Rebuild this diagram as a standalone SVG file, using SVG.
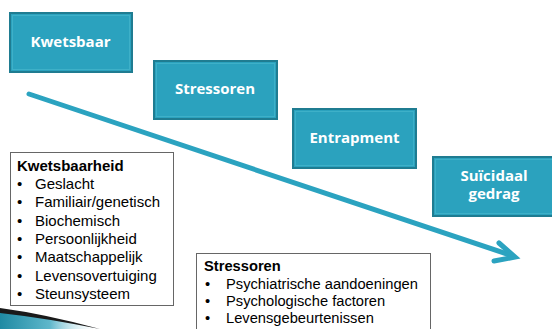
<svg xmlns="http://www.w3.org/2000/svg" width="552" height="329" viewBox="0 0 552 329">
<style>
.box{fill:#2ba2be;stroke:#1f7c91;stroke-width:2}
.inner{fill:none;stroke:#3eb0c8;stroke-width:1}
.lbl{font-family:"Open Sans",sans-serif;font-weight:bold;font-size:15px;fill:#ffffff;text-anchor:middle}
.tbox{fill:#ffffff;stroke:#666666;stroke-width:1}
.txt{font-family:"Liberation Sans",Arial,sans-serif;fill:#000000}
.hd{font-weight:bold}
.arrow{fill:none;stroke:#2ba3c0;stroke-width:5}
</style>
<defs>
<linearGradient id="sw" x1="0" y1="0" x2="1" y2="0">
<stop offset="0" stop-color="#1f8aa3"/>
<stop offset="0.5" stop-color="#5fb7cb"/>
<stop offset="1" stop-color="#ffffff" stop-opacity="0"/>
</linearGradient>
</defs>

<g id="swoosh">
<path d="M0,310 Q45,316 100,329 L0,329 Z" fill="url(#sw)"/>
<path d="M0,308 Q45,314 100,329 Q45,318 0,313 Z" fill="#1a1a1a"/>
</g>

<g id="connectors">
<line class="arrow" x1="29" y1="94" x2="513" y2="256" stroke-linecap="round"/>
<polyline class="arrow" points="499,243 515,257 494,261" stroke-linecap="round" stroke-linejoin="miter"/>
</g>

<g id="kwetsbaar">
<rect class="box" x="10" y="13" width="122" height="59"/>
<rect class="inner" x="12.5" y="15.5" width="117" height="54"/>
<text class="lbl" x="70.5" y="47">Kwetsbaar</text>
</g>

<g id="stressoren">
<rect class="box" x="154" y="61" width="123" height="58"/>
<rect class="inner" x="156.5" y="63.5" width="118" height="53"/>
<text class="lbl" x="215" y="94">Stressoren</text>
</g>

<g id="entrapment">
<rect class="box" x="293" y="109" width="123" height="59"/>
<rect class="inner" x="295.5" y="111.5" width="118" height="54"/>
<text class="lbl" x="354.5" y="143">Entrapment</text>
</g>

<g id="suicidaal">
<rect class="box" x="433" y="157" width="121" height="59"/>
<rect class="inner" x="435.5" y="159.5" width="118" height="54"/>
<text class="lbl" x="494" y="181">Suïcidaal</text>
<text class="lbl" x="494" y="199">gedrag</text>
</g>

<g id="kwetsbaarheid">
<rect class="tbox" x="10.5" y="152.5" width="163" height="153"/>
<text class="txt hd" x="17" y="170.5" font-size="15">Kwetsbaarheid</text>
<g class="txt" font-size="15">
<text x="17" y="188.5">•</text><text x="35" y="188.5">Geslacht</text>
<text x="17" y="207">•</text><text x="35" y="207">Familiair/genetisch</text>
<text x="17" y="225.5">•</text><text x="35" y="225.5">Biochemisch</text>
<text x="17" y="244">•</text><text x="35" y="244">Persoonlijkheid</text>
<text x="17" y="262">•</text><text x="35" y="262">Maatschappelijk</text>
<text x="17" y="280.5">•</text><text x="35" y="280.5">Levensovertuiging</text>
<text x="17" y="299">•</text><text x="35" y="299">Steunsysteem</text>
</g>
</g>

<g id="stressoren-lijst">
<rect class="tbox" x="196.5" y="253.5" width="234" height="80"/>
<text class="txt hd" x="204" y="271" font-size="14.7">Stressoren</text>
<g class="txt" font-size="14.7">
<text x="205" y="288.5">•</text><text x="226" y="288.5">Psychiatrische aandoeningen</text>
<text x="205" y="305.5">•</text><text x="226" y="305.5">Psychologische factoren</text>
<text x="205" y="322.5">•</text><text x="226" y="322.5">Levensgebeurtenissen</text>
</g>
</g>
</svg>
